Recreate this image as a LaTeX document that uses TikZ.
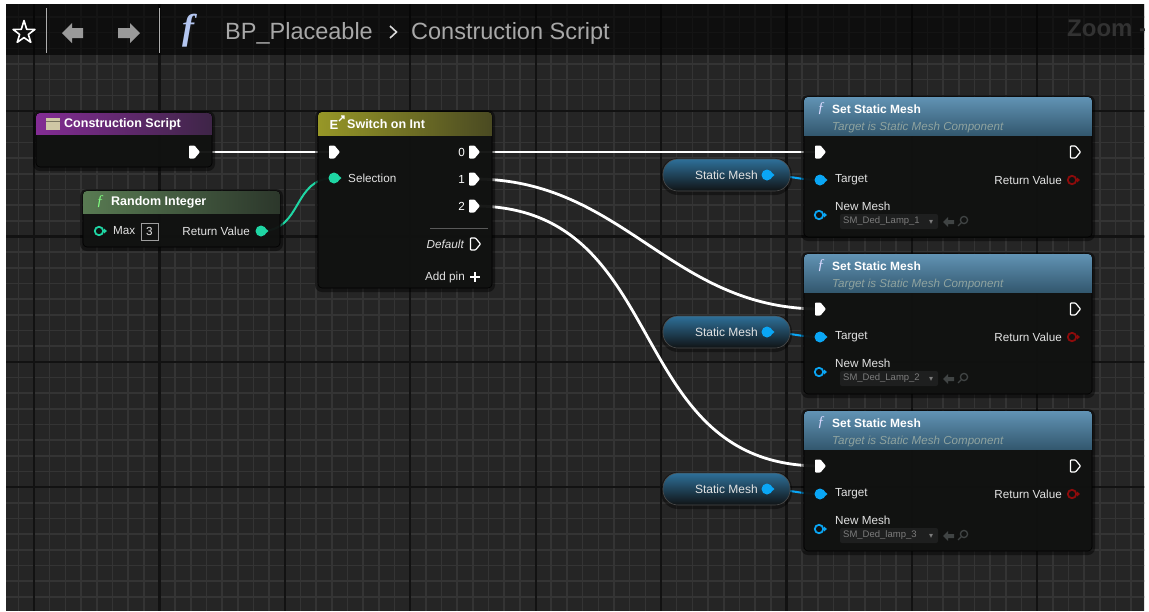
\documentclass[tikz,border=0pt]{standalone}
\usepackage{fontspec}
\setmainfont{Liberation Sans}
\newfontfamily\djv{DejaVu Sans}
\newfontfamily\lserif{Liberation Serif}
\definecolor{bgc}{HTML}{252525}
\definecolor{minorc}{HTML}{343434}
\definecolor{majorc}{HTML}{121212}
\definecolor{bodyc}{HTML}{111211}
\definecolor{purA}{HTML}{832C94}
\definecolor{purB}{HTML}{3E2547}
\definecolor{grnA}{HTML}{587A52}
\definecolor{grnB}{HTML}{2C372B}
\definecolor{ylwA}{HTML}{979727}
\definecolor{ylwB}{HTML}{4A4A22}
\definecolor{bluA}{HTML}{6193B4}
\definecolor{bluB}{HTML}{33586F}
\definecolor{tealc}{HTML}{1FD6A4}
\definecolor{pinblue}{HTML}{0AA6F5}
\definecolor{pinred}{HTML}{8E0B0B}
\definecolor{subc}{HTML}{8FA39F}
\definecolor{lblc}{HTML}{E2E2E2}
\definecolor{iconc}{HTML}{404444}
\definecolor{ddc}{HTML}{1E1F1F}
\definecolor{ddtext}{HTML}{7C7C7C}
\definecolor{pillA}{HTML}{2E7099}
\definecolor{pillM}{HTML}{17303F}
\definecolor{pillB}{HTML}{101315}
\definecolor{zoomc}{HTML}{323232}
\definecolor{bartext}{HTML}{A8A8A8}
\definecolor{arrowc}{HTML}{9A9A9A}
\definecolor{fblue}{HTML}{B4C6F0}
\definecolor{csicon}{HTML}{CFC7A5}

\newcommand\ttlf{\fontsize{12.5}{14}\selectfont\bfseries}
\newcommand\pinf{\fontsize{11.7}{13}\selectfont}
\newcommand\subf{\fontsize{11.6}{13}\selectfont\itshape}
\newcommand\ddf{\fontsize{9.5}{11}\selectfont}
\newcommand\fnf{\fontsize{15}{15}\selectfont\lserif\itshape}

\newcommand\uenode[7]{%
 \fill[black,opacity=0.45,rounded corners=7pt] ({#2-3},{#3-2}) rectangle ({#4+3},{#5+4});
 \node[nodebody, minimum width={((#4)-(#2))*1pt}, minimum height={((#5)-(#3))*1pt}] (#1) at ({((#2)+(#4))/2},{((#3)+(#5))/2}) {};
 \begin{scope}
 \clip[rounded corners=4pt] (#2,#3) rectangle (#4,#5);
 \fill[#7] (#2,#3) rectangle (#4,#6);
 \end{scope}}

\tikzset{
 nodebody/.style={draw=black, line width=0.6pt, fill=bodyc, fill opacity=0.93, rounded corners=4pt, inner sep=0pt, outer sep=0pt},
 minorline/.style={draw=minorc, line width=1.6pt},
 majorline/.style={draw=majorc, line width=2.2pt},
 execwire/.style={draw=white, line width=2.8pt},
 tealwire/.style={draw=tealc, line width=2pt},
 bluewire/.style={draw=pinblue, line width=2pt},
 ttl/.style={anchor=west, inner sep=0pt, text=white, font=\ttlf},
 lbl/.style={inner sep=0pt, text=lblc, font=\pinf},
 pill/.style={draw=black!70, line width=0.6pt, rounded corners=15pt, top color=pillA, middle color=pillM, bottom color=pillB, inner sep=0pt},
 pics/execf/.style={code={\fill[white,rounded corners=0.8pt] (-5,-6.5) -- (0.5,-6.5) -- (6,0) -- (0.5,6.5) -- (-5,6.5) -- cycle;}},
 pics/exech/.style={code={\draw[white,line width=1.2pt,rounded corners=0.8pt] (-4.5,-6) -- (0.5,-6) -- (5.5,0) -- (0.5,6) -- (-4.5,6) -- cycle;}},
 pics/dataf/.style={code={\fill[#1] (0,0) circle (5.5pt); \fill[#1] (4,-3) -- (7.5,0) -- (4,3) -- cycle;}},
 pics/datah/.style={code={\draw[#1,line width=1.8pt] (0,0) circle (4.2pt); \fill[#1] (5,-2.5) -- (8,0) -- (5,2.5) -- cycle;}},
}

\begin{document}
\begin{tikzpicture}[x=1pt,y=-1pt]
\useasboundingbox (0,0) rectangle (1149,611);
\fill[white] (0,0) rectangle (1149,611);
% graph background and grid
\begin{scope}
\clip (6,4) rectangle (1144,611);
\fill[bgc] (0,0) rectangle (1149,611);
\foreach \k in {-2,...,71} \draw[minorline] ({34+\k*15.675},0) -- ++(0,611);
\foreach \k in {-7,...,32} \draw[minorline] (0,{111+\k*15.675}) -- ++(1149,0);
\foreach \k in {0,...,8} \draw[majorline] ({34+\k*125.4},0) -- ++(0,611);
\foreach \k in {-1,...,4} \draw[majorline] (0,{111+\k*125.4}) -- ++(1149,0);
\fill[black,opacity=0.6] (0,0) rectangle (1149,55);
\node[anchor=base west, inner sep=0pt, text=zoomc, font=\fontsize{24}{24}\selectfont\bfseries] (zoom) at (1067,36) {Zoom -};
\end{scope}

% top bar
\draw[white, line width=1.6pt, line join=round] (24,20.5)
  \foreach \a in {1,...,4} { -- ({24+4.6*sin(36+(\a-1)*72)},{33-4.6*cos(36+(\a-1)*72)}) -- ({24+11.5*sin(\a*72)},{33-11.5*cos(\a*72)}) }
  -- ({24+4.6*sin(324)},{33-4.6*cos(324)}) -- cycle;
\draw[arrowc!80, line width=0.8pt] (46,8) -- (46,53);
\draw[arrowc!80, line width=0.8pt] (159,8) -- (159,53);
\fill[arrowc] (62,33) -- (72,23) -- (72,28) -- (83,28) -- (83,38) -- (72,38) -- (72,43) -- cycle;
\fill[arrowc] (140,33) -- (130,23) -- (130,28) -- (118,28) -- (118,38) -- (130,38) -- (130,43) -- cycle;
\node[inner sep=0pt, text=fblue, font=\fontsize{36}{36}\selectfont\lserif\bfseries\itshape] (fbar) at (188,31) {f};
\node[anchor=base west, inner sep=0pt, text=bartext, font=\fontsize{23.5}{23.5}\selectfont] (bp) at (225,39) {BP\_Placeable};
\draw[white!85!black, line width=1.6pt] (390,26) -- (396.5,32) -- (390,38);
\node[anchor=base west, inner sep=0pt, text=bartext, font=\fontsize{23.5}{23.5}\selectfont] (cstitle) at (411,39) {Construction Script};

% pin coordinates
\coordinate (cs-out) at (194,152);
\coordinate (sw-in) at (334,152);
\coordinate (sw-sel) at (334,178);
\coordinate (sw-o0) at (474,152);
\coordinate (sw-o1) at (474,179);
\coordinate (sw-o2) at (474,206);
\coordinate (sw-def) at (475,244);
\coordinate (ri-out) at (261,231);
\coordinate (ri-max) at (99,231);
\foreach \i/\d in {1/0,2/157,3/314}{
 \coordinate (ssm\i-in) at (820,152+\d);
 \coordinate (ssm\i-out) at (1075,152+\d);
 \coordinate (ssm\i-tgt) at (820,180+\d);
 \coordinate (ssm\i-ret) at (1072,180+\d);
 \coordinate (ssm\i-mesh) at (819,215+\d);
 \coordinate (sm\i-out) at (767,175+\d);
}

% wires (under the nodes)
\draw[execwire] (cs-out) -- (sw-in);
\draw[execwire] (sw-o0) -- (ssm1-in);
\draw[execwire] (sw-o1) .. controls +(150,0) and +(-150,0) .. (ssm2-in);
\draw[execwire] (sw-o2) .. controls +(200,0) and +(-200,0) .. (ssm3-in);
\draw[tealwire] (ri-out) .. controls +(42,0) and +(-42,0) .. (sw-sel);
\foreach \i in {1,2,3} \draw[bluewire] (sm\i-out) .. controls +(20,0) and +(-20,0) .. (ssm\i-tgt);

% Construction Script node
\uenode{cs}{36}{113}{212}{167}{134}{left color=purA,right color=purB}
\fill[csicon] (46,118) rectangle (60,130);
\fill[csicon!60!black] (46,121) rectangle (60,122);
\node[ttl] (cs-t) at (64,124) {Construction Script};
\pic at (cs-out) {execf};

% Random Integer node
\uenode{ri}{83}{191}{280}{247}{213}{left color=grnA,right color=grnB}
\node[inner sep=0pt, text=green!50!white, font=\fnf] (ri-f) at (100,202) {ƒ};
\node[ttl] (ri-t) at (111,202) {Random Integer};
\pic at (ri-max) {datah=tealc};
\node[lbl, anchor=west] (ri-maxl) at (113,231) {Max};
\node[draw=lblc!70!black, line width=0.8pt, minimum width=17pt, minimum height=17pt, inner sep=0pt, text=lblc, font=\pinf] (ri-box) at (149.5,231.5) {3};
\node[lbl, anchor=east] (ri-retl) at (250,231) {Return Value};
\pic at (ri-out) {dataf=tealc};

% Switch on Int node
\uenode{sw}{318}{112}{492}{288}{135}{left color=ylwA,right color=ylwB}
\node[inner sep=0pt, text=white, font=\fontsize{13}{13}\selectfont\bfseries] (sw-icon) at (334,125) {E};
\draw[white, line width=1.2pt] (339,121) -- (344,116) (341,116) -- (344,116) -- (344,119);
\node[ttl] (sw-t) at (347,124) {Switch on Int};
\pic at (sw-in) {execf};
\pic at (sw-sel) {dataf=tealc};
\node[lbl, anchor=west] (sw-sell) at (348,178) {Selection};
\node[lbl, anchor=east, text=white] (sw-l0) at (465,152) {0};
\node[lbl, anchor=east, text=white] (sw-l1) at (465,179) {1};
\node[lbl, anchor=east, text=white] (sw-l2) at (465,206) {2};
\pic at (sw-o0) {execf};
\pic at (sw-o1) {execf};
\pic at (sw-o2) {execf};
\draw[white!35!black, line width=0.8pt] (430,228) -- (488,228);
\node[lbl, anchor=east, font=\pinf\itshape] (sw-defl) at (464,244) {Default};
\pic at (sw-def) {exech};
\node[lbl, anchor=east] (sw-add) at (465,277) {Add pin};
\draw[white, line width=2pt] (470,277) -- (480,277) (475,272) -- (475,282);

% Set Static Mesh nodes and Static Mesh variables
\foreach \i/\d/\m in {1/0/SM\_Ded\_Lamp\_1, 2/157/SM\_Ded\_Lamp\_2, 3/314/SM\_Ded\_lamp\_3}{
 \uenode{ssm\i}{804}{97+\d}{1092}{237+\d}{135+\d}{top color=bluA,bottom color=bluB}
 \node[inner sep=0pt, text=blue!15!white, font=\fnf] (ssm\i-f) at (821,109+\d) {ƒ};
 \node[ttl, font=\fontsize{12}{14}\selectfont\bfseries] (ssm\i-t) at (832,109+\d) {Set Static Mesh};
 \node[anchor=west, inner sep=0pt, text=subc, font=\subf] (ssm\i-s) at (832,127+\d) {Target is Static Mesh Component};
 \pic at (ssm\i-in) {execf};
 \pic at (ssm\i-out) {exech};
 \pic at (ssm\i-tgt) {dataf=pinblue};
 \node[lbl, anchor=west] (ssm\i-tl) at (835,180+\d) {Target};
 \node[lbl, anchor=east] (ssm\i-rl) at (1062,180+\d) {Return Value};
 \pic at (ssm\i-ret) {datah=pinred};
 \node[lbl, anchor=west] (ssm\i-nl) at (835,206+\d) {New Mesh};
 \pic at (ssm\i-mesh) {datah=pinblue};
 \node[fill=ddc, rounded corners=2pt, minimum width=98pt, minimum height=15pt, inner sep=0pt] (ssm\i-dd) at (889,221.5+\d) {};
 \node[anchor=west, inner sep=0pt, text=ddtext, font=\ddf] (ssm\i-ddt) at (843,221.5+\d) {\m};
 \node[inner sep=0pt, text=ddtext, font=\djv\fontsize{8}{8}\selectfont] (ssm\i-ddv) at (931,222+\d) {▾};
 \fill[iconc] (943,222+\d) -- (948,217+\d) -- (948,220+\d) -- (954,220+\d) -- (954,224+\d) -- (948,224+\d) -- (948,227+\d) -- cycle;
 \draw[iconc, line width=1.3pt] (964,220+\d) circle (3.6pt) (961.5,222.5+\d) -- (958,226+\d);
 \fill[black, opacity=0.4, rounded corners=17pt] (661,158+\d) rectangle (792,195+\d);
 \node[pill, minimum width=127pt, minimum height=32pt] (sm\i) at (726.5,175+\d) {};
 \node[lbl, anchor=east, font=\fontsize{12}{14}\selectfont] (sm\i-l) at (758,175+\d) {Static Mesh};
 \pic at (sm\i-out) {dataf=pinblue};
}
\end{tikzpicture}
\end{document}
